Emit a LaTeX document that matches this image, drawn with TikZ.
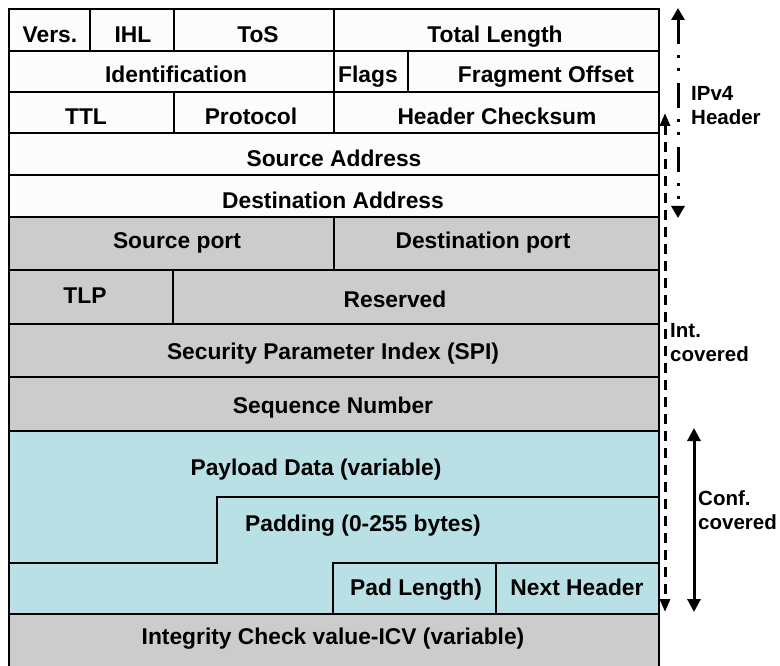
\documentclass[tikz,border=0pt]{standalone}
\usepackage{fontspec}
\setmainfont{Liberation Sans}
\usetikzlibrary{arrows.meta}
\definecolor{cellgray}{RGB}{204,204,204}
\definecolor{cellcyan}{RGB}{185,224,228}
\definecolor{cellwhite}{RGB}{252,252,252}
\begin{document}
\begin{tikzpicture}[x=1pt,y=-1pt,
  lbl/.style={anchor=base, inner sep=0pt, font=\fontsize{22.8}{26}\selectfont\bfseries},
  side/.style={anchor=north west, inner sep=0pt, align=left, font=\fontsize{20.5}{24}\selectfont\bfseries},
  gridline/.style={line width=2.9pt, black},
  span/.style={line width=3pt, black}
]
\useasboundingbox (0,0) rectangle (780,666);
% backgrounds
\fill[cellwhite] (9,9) rectangle (659,217);
\fill[cellgray] (9,217) rectangle (659,431);
\fill[cellcyan] (9,431) rectangle (659,614);
\fill[cellgray] (9,614) rectangle (659,672);
% outer frame
\draw[gridline] (9,672) -- (9,9) -- (659,9) -- (659,672);
% full-width horizontal lines
\foreach \yy in {51,92,133,175,217,270,324,377,431,614}
  \draw[gridline] (9,\yy) -- (659,\yy);
% vertical dividers
\draw[gridline] (90,9) -- (90,51);
\draw[gridline] (174,9) -- (174,51);
\draw[gridline] (334,9) -- (334,92);
\draw[gridline] (408,51) -- (408,92);
\draw[gridline] (174,92) -- (174,133);
\draw[gridline] (334,92) -- (334,133);
\draw[gridline] (334,217) -- (334,270);
\draw[gridline] (173,270) -- (173,324);
% payload / padding steps
\draw[gridline] (9,563) -- (217,563) -- (217,497) -- (659,497);
\draw[gridline] (333,614) -- (333,563) -- (659,563);
\draw[gridline] (496,563) -- (496,614);
% labels
\node[lbl] (vers) at (50,43) {Vers.};
\node[lbl] (ihl) at (133,43) {IHL};
\node[lbl] (tos) at (258,43) {ToS};
\node[lbl] (tlen) at (495,43) {Total Length};
\node[lbl] (ident) at (176,83) {Identification};
\node[lbl] (flags) at (368,83) {Flags};
\node[lbl] (frag) at (546,83) {Fragment Offset};
\node[lbl] (ttl) at (86,125) {TTL};
\node[lbl] (proto) at (251,125) {Protocol};
\node[lbl] (hcs) at (497,125) {Header Checksum};
\node[lbl] (src) at (334,167) {Source Address};
\node[lbl] (dst) at (333,208) {Destination Address};
\node[lbl] (sport) at (177,249) {Source port};
\node[lbl] (dport) at (483,249) {Destination port};
\node[lbl] (tlp) at (85,303) {TLP};
\node[lbl] (res) at (395,307) {Reserved};
\node[lbl] (spi) at (333,359) {Security Parameter Index (SPI)};
\node[lbl] (seq) at (333,413) {Sequence Number};
\node[lbl] (payload) at (316,475) {Payload Data (variable)};
\node[lbl] (pad) at (363,531) {Padding (0-255 bytes)};
\node[lbl] (padlen) at (416,595) {Pad Length)};
\node[lbl] (next) at (577,595) {Next Header};
\node[lbl] (icv) at (333,644) {Integrity Check value-ICV (variable)};
% side annotations
\node[side] (ipv4) at (691,86) {IPv4\\Header};
\node[side] (intc) at (670,323) {Int.\\covered};
\node[side] (confc) at (698,490) {Conf.\\covered};
% spans
\coordinate (ipTop) at (678,8);
\coordinate (ipBot) at (678,218);
\coordinate (intTop) at (665,113);
\coordinate (intBot) at (665,612);
\coordinate (confTop) at (694,428);
\coordinate (confBot) at (694,612);
\draw[span, {Triangle[length=12pt,width=13pt]}-{Triangle[length=12pt,width=13pt]},
  dash pattern=on 25pt off 11pt on 3pt off 10pt on 3pt off 12pt] (ipTop) -- (ipBot);
\draw[span, {Triangle[length=13pt,width=10pt]}-{Triangle[length=13pt,width=10pt]},
  dash pattern=on 10pt off 7pt] (intTop) -- (intBot);
\draw[span, {Triangle[length=13pt,width=13pt]}-{Triangle[length=13pt,width=13pt]}] (confTop) -- (confBot);
\end{tikzpicture}
\end{document}
